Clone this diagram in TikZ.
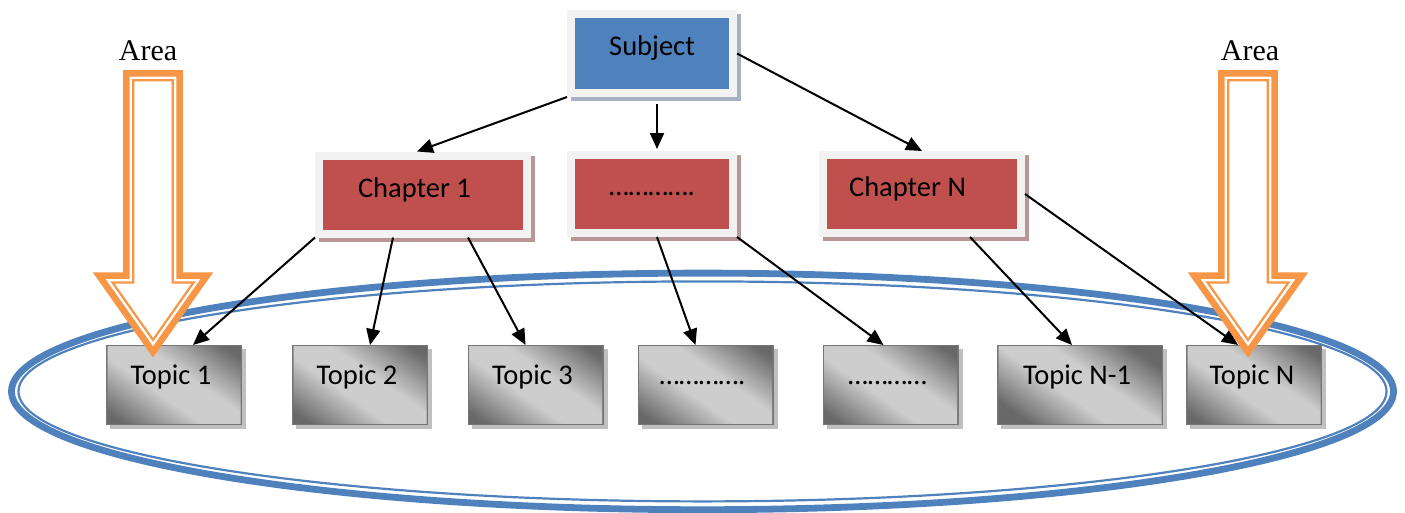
\documentclass[tikz,border=0pt]{standalone}
\usepackage{fontspec}
\setmainfont{Carlito}
\newfontfamily\areafont{Liberation Serif}
\usetikzlibrary{arrows.meta,calc}
\definecolor{subjblue}{RGB}{79,129,189}
\definecolor{chred}{RGB}{192,80,77}
\definecolor{framegray}{RGB}{242,242,242}
\definecolor{blueshadow}{RGB}{166,178,196}
\definecolor{redshadow}{RGB}{185,150,150}
\definecolor{topicborder}{RGB}{118,118,118}
\definecolor{topicshadow}{RGB}{191,191,191}
\definecolor{areaorange}{RGB}{247,150,70}
\definecolor{ringblue}{RGB}{79,129,189}
\definecolor{tdark}{RGB}{104,104,104}
\definecolor{tlight}{RGB}{205,205,205}
\tikzset{
  boxtxt/.style={font=\fontsize{28.5}{34}\selectfont, inner sep=0pt, anchor=base},
  areatxt/.style={font=\areafont\fontsize{30}{36}\selectfont, inner sep=0pt, anchor=base},
  bluebox/.style={draw=framegray, line width=8pt, fill=subjblue, inner sep=0pt,
    minimum width=162pt, minimum height=79pt,
    preaction={draw=blueshadow, fill=blueshadow, line width=8pt, transform canvas={xshift=4pt,yshift=-4pt}}},
  redbox/.style={draw=framegray, line width=8pt, fill=chred, inner sep=0pt,
    minimum height=78pt,
    preaction={draw=redshadow, fill=redshadow, line width=8pt, transform canvas={xshift=4pt,yshift=-4pt}}},
  topicbox/.style={draw=topicborder, line width=3pt,
    inner sep=0pt, minimum width=133pt, minimum height=77pt,
    preaction={draw=topicshadow, fill=topicshadow, line width=3pt, transform canvas={xshift=4pt,yshift=-4pt}}},
  conn/.style={line width=2pt, -{Triangle[length=16pt,width=14pt]}},
  ring/.style={draw=ringblue},
  areaout/.style={draw=areaorange, line width=6.5pt, fill=white, line join=miter},
  areain/.style={draw=areaorange, line width=2.2pt, line join=miter},
}
\newcommand\topicfill[1]{%
  \begin{scope}
    \clip ($(#1.south west)+(1.5,-1.5)$) rectangle ($(#1.north east)+(-1.5,1.5)$);
    \begin{scope}[shift={(#1.center)}, rotate=55]
      \foreach \s in {-92,-90,...,90} {
        \pgfmathsetmacro{\p}{min(100,max(0,(abs(\s+1)-15)*2.2))}
        \fill[tdark!\p!tlight] (\s,-160) rectangle (\s+2.3,160);
      }
    \end{scope}
  \end{scope}}
\begin{document}
\begin{tikzpicture}[x=1pt,y=-1pt]
\useasboundingbox (0,0) rectangle (1405,512);

% ring
\draw[ring, line width=6.8pt] (702.5,391.4) ellipse [x radius=691pt, y radius=118.3pt];
\draw[ring, line width=2.2pt] (702.5,391.4) ellipse [x radius=684pt, y radius=110pt];

% boxes
\node[bluebox] (subj) at (652,53.5) {};
\node[redbox, minimum width=208pt] (ch1) at (423,194.5) {};
\node[redbox, minimum width=162pt] (mid) at (652,194) {};
\node[redbox, minimum width=198pt] (chN) at (922,194) {};

\node[topicbox] (t1) at (174,385) {};
\node[topicbox] (t2) at (360,385) {};
\node[topicbox] (t3) at (535.5,385) {};
\node[topicbox] (t4) at (705.5,385) {};
\node[topicbox] (t5) at (890.5,385) {};
\node[topicbox, minimum width=163pt] (t6) at (1080,385) {};
\node[topicbox] (tN) at (1254,385) {};
\foreach \n in {t1,t2,t3,t4,t5,t6,tN} {\topicfill{\n}}

% texts
\node[boxtxt] (subjl) at ($(subj)+(0,1.5)$) {Subject};
\node[boxtxt] (ch1l) at ($(ch1)+(-8.5,2.5)$) {Chapter 1};
\node[boxtxt] (midl) at ($(mid)+(0,1)$) {………….};
\node[boxtxt] (chNl) at ($(chN)+(-14.5,2.5)$) {Chapter N};
\node[boxtxt] (t1l) at ($(t1)+(-3,-1)$) {Topic 1};
\node[boxtxt] (t2l) at ($(t2)+(-3,-1)$) {Topic 2};
\node[boxtxt] (t3l) at ($(t3)+(-3,-1)$) {Topic 3};
\node[boxtxt] (t4l) at ($(t4)+(-3,-1)$) {………….};
\node[boxtxt] (t5l) at ($(t5)+(-3,-1)$) {…………};
\node[boxtxt] (t6l) at ($(t6)+(-3,-1)$) {Topic N-1};
\node[boxtxt] (tNl) at ($(tN)+(-2,-1)$) {Topic N};

% connectors
\draw[conn] (subj.south west) -- ($(ch1.north)+(-6,0)$);
\draw[conn] ($(subj.south)+(5,7)$) -- ($(mid.north)+(5,-2)$);
\draw[conn] (subj.east) -- (chN.north);
\draw[conn] (ch1.south west) -- ($(t1.north)+(19,0)$);
\draw[conn] ($(ch1.south)+(-30,0)$) -- ($(t2.north)+(10,0)$);
\draw[conn] ($(ch1.south)+(45,0)$) -- ($(t3.north)+(-10,0)$);
\draw[conn] ($(mid.south)+(5,0)$) -- ($(t4.north)+(-10,0)$);
\draw[conn] (mid.south east) -- ($(t5.north)+(-7,0)$);
\draw[conn] ($(chN.south)+(48,0)$) -- ($(t6.north)+(-8,0)$);
\draw[conn] (chN.east) -- ($(tN.north)+(-16,0)$);

% area arrows
\foreach \cx in {153,1248} {
  \draw[areaout] ({\cx-26.7},73.3) -- ({\cx+26.7},73.3) -- ({\cx+26.7},275.5) -- ({\cx+54},275.5)
     -- (\cx,352) -- ({\cx-54},275.5) -- ({\cx-26.7},275.5) -- cycle;
  \draw[areain] ({\cx-19.7},80.3) -- ({\cx+19.7},80.3) -- ({\cx+19.7},282.5) -- ({\cx+40.5},282.5)
     -- (\cx,339.9) -- ({\cx-40.5},282.5) -- ({\cx-19.7},282.5) -- cycle;
}
\node[areatxt] (area1) at (148,60) {Area};
\node[areatxt] (area2) at (1250,60) {Area};
\end{tikzpicture}
\end{document}
